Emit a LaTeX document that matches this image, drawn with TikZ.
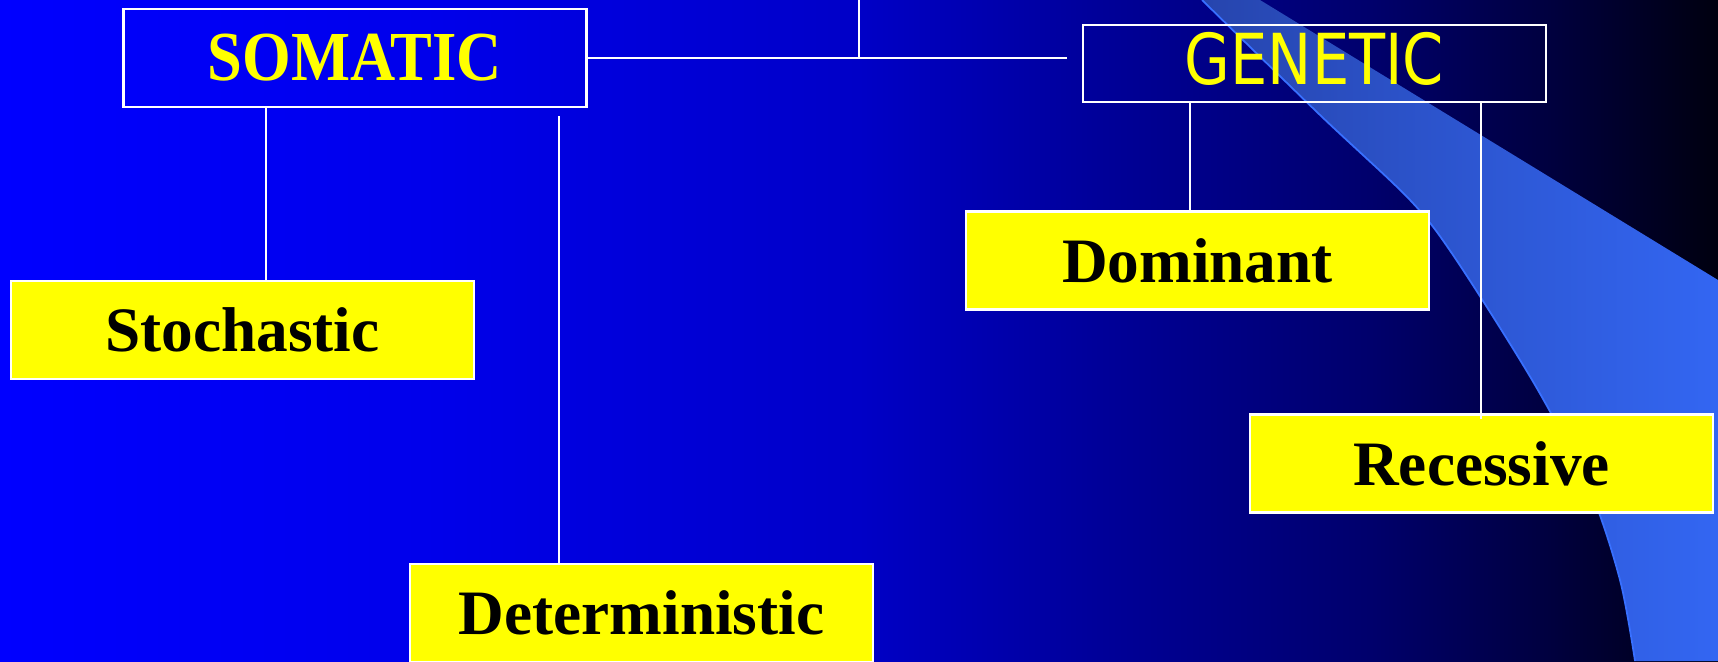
\documentclass[tikz,border=0pt]{standalone}
\usepackage{fontspec}
\setmainfont{Liberation Serif}
\newfontfamily\gensans{DejaVu Sans}
\usepackage{graphicx}
\usetikzlibrary{positioning}

\definecolor{boxyellow}{rgb}{1,1,0}
\definecolor{swdark}{rgb}{0.15,0.27,0.68}
\definecolor{swlight}{rgb}{0.2,0.4,0.95}
\definecolor{swedge}{rgb}{0.22,0.44,1}
\pgfdeclarehorizontalshading{bgblue}{100bp}{rgb(0bp)=(0,0,1); rgb(25bp)=(0,0,1); rgb(37.5bp)=(0,0,0.92); rgb(50bp)=(0,0,0.78); rgb(57bp)=(0,0,0.6); rgb(65bp)=(0,0,0.42); rgb(70bp)=(0,0,0.25); rgb(75bp)=(0,0,0.06); rgb(100bp)=(0,0,0.06)}

\begin{document}
\begin{tikzpicture}[on grid,
    head/.style={draw=white, line width=0.7pt, minimum width=4.63cm, minimum height=0.98cm, inner sep=0pt, text=boxyellow},
    leaf/.style={draw=white, line width=0.7pt, fill=boxyellow, minimum width=4.63cm, minimum height=0.98cm, inner sep=0pt,
        font=\fontsize{18}{20}\selectfont\bfseries},
    link/.style={draw=white, line width=0.6pt}]
    \useasboundingbox (0,0) rectangle (17.18,-6.61);
    % background and swoosh
    \shade[shading=bgblue] (0,0) rectangle (17.18,-6.61);
    \shade[left color=swdark, right color=swlight]
        plot[smooth] coordinates {(12.02,0) (13.2,-1.15) (14.1,-2.0) (14.55,-2.58) (15.35,-3.85) (15.9,-4.9) (16.2,-5.8) (16.35,-6.61)}
        -- (17.18,-6.61) -- (17.18,-2.8) -- (12.6,0) -- cycle;
    \draw[swedge, line width=0.5pt]
        plot[smooth] coordinates {(12.02,0) (13.2,-1.15) (14.1,-2.0) (14.55,-2.58) (15.35,-3.85) (15.9,-4.9) (16.2,-5.8) (16.35,-6.61)};

    \node[head] (som) at (3.55,-0.58) {\fontsize{20}{22}\selectfont\bfseries\scalebox{0.89}[1]{SOMATIC}};
    \node[head, minimum height=0.77cm] (gen) [below right=0.055cm and 9.595cm of som] {\raisebox{1mm}{\gensans\fontsize{20}{22}\selectfont\scalebox{0.84}[1]{GENETIC}}};
    \node[leaf] (stoch) [below left=2.72cm and 1.125cm of som] {Stochastic};
    \node[leaf] (det) [below right=5.55cm and 2.865cm of som] {Deterministic};
    \node[leaf] (dom) [below left=1.97cm and 1.17cm of gen] {Dominant};
    \node[leaf] (rec) [below right=4.0cm and 1.67cm of gen] {Recessive};

    \coordinate (top) at (8.59,0);
    \coordinate (gap) at ([xshift=4.79cm]som.east);

    \path[link]
    (top) -- (top |- som.east)
    (som.east) -- (gap)
    ([xshift=1.44cm]som.south west) -- ([xshift=1.44cm]som.south west |- stoch.north)
    ([shift={(4.37cm,-0.08cm)}]som.south west) -- ([xshift=4.37cm]som.south west |- det.north)
    ([xshift=1.08cm]gen.south west) -- ([xshift=1.08cm]gen.south west |- dom.north)
    ([xshift=3.99cm]gen.south west) -- ([xshift=3.99cm,yshift=-0.06cm]gen.south west |- rec.north);
\end{tikzpicture}
\end{document}
